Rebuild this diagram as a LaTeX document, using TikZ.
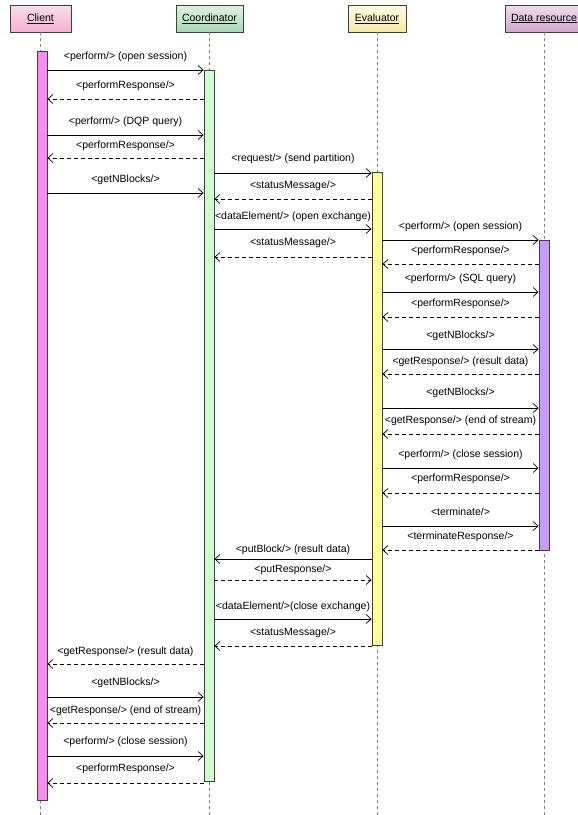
\documentclass[tikz,border=0pt]{standalone}
\usepackage{fontspec}
\setmainfont{Liberation Sans}
\usepackage{tikz}
\usetikzlibrary{calc,arrows.meta}
\definecolor{sq-line}{HTML}{404040}
\definecolor{sq-life}{HTML}{808080}
\definecolor{sq-client-top}{HTML}{FBDCEA}
\definecolor{sq-client-bot}{HTML}{F2B2D2}
\definecolor{sq-coord-top}{HTML}{DDF2E1}
\definecolor{sq-coord-bot}{HTML}{A8D8B4}
\definecolor{sq-eval-top}{HTML}{FFFCE4}
\definecolor{sq-eval-bot}{HTML}{F4E9A6}
\definecolor{sq-data-top}{HTML}{F0DCEE}
\definecolor{sq-data-bot}{HTML}{D2A6CE}
\definecolor{sq-client-bar}{HTML}{F98CF2}
\definecolor{sq-coord-bar}{HTML}{CCFFCC}
\definecolor{sq-eval-bar}{HTML}{FFFF99}
\definecolor{sq-data-bar}{HTML}{C899FF}
\tikzset{
  every node/.style={font=\fontsize{10.5}{12}\selectfont},
  header/.style={draw=sq-line, line width=0.8pt, minimum height=27pt, inner sep=0pt},
  lifeline/.style={draw=sq-life, line width=0.6pt, dash pattern=on 3pt off 3pt},
  actbar/.style={draw=sq-line, line width=0.8pt, minimum width=10pt, inner sep=0pt},
  callmsg/.style={draw=black, line width=0.7pt, -{Straight Barb[length=5pt,width=9pt]}},
  replymsg/.style={callmsg, dash pattern=on 4pt off 3pt},
  msglbl/.style={inner sep=0pt, text=black}
}

\begin{document}
\begin{tikzpicture}[x=1pt, y=-1pt]
    \useasboundingbox (0,0) rectangle (578,815);
    \node[header, minimum width=61pt, top color=sq-client-top, bottom color=sq-client-bot] (client) at (40.5,18.5) {\underline{Client}};
    \node[header, minimum width=67pt, top color=sq-coord-top, bottom color=sq-coord-bot] (coord) at (209.5,18.5) {\underline{Coordinator}};
    \node[header, minimum width=58pt, top color=sq-eval-top, bottom color=sq-eval-bot] (eval) at (377,18.5) {\underline{Evaluator}};
    \node[header, minimum width=78pt, top color=sq-data-top, bottom color=sq-data-bot] (data) at (544,18.5) {\underline{Data resource}};
    \foreach \p in {client,coord,eval,data}
        \draw[lifeline] (\p.south) -- (\p |- 0,815);
    \node[actbar, fill=sq-client-bar, minimum height=749pt] (clbar) at (42,425.5) {};
    \node[actbar, fill=sq-coord-bar, minimum height=711pt] (cobar) at (209,425.5) {};
    \node[actbar, fill=sq-eval-bar, minimum height=473pt] (evbar) at (377,408.5) {};
    \node[actbar, fill=sq-data-bar, minimum height=310pt] (drbar) at (544,395) {};
    \foreach \y/\ly/\src/\dst/\kind/\txt in {
        70/57/clbar.east/cobar.west/callmsg/{<perform/> (open session)},
        99/86/cobar.west/clbar.east/replymsg/{<performResponse/>},
        135/122/clbar.east/cobar.west/callmsg/{<perform/> (DQP query)},
        158/146/cobar.west/clbar.east/replymsg/{<performResponse/>},
        173/159/cobar.east/evbar.west/callmsg/{<request/> (send partition)},
        193/180/clbar.east/cobar.west/callmsg/{<getNBlocks/>},
        199/186/evbar.west/cobar.east/replymsg/{<statusMessage/>},
        229/217/cobar.east/evbar.west/callmsg/{<dataElement/> (open exchange)},
        240/227/evbar.east/drbar.west/callmsg/{<perform/> (open session)},
        257/243/evbar.west/cobar.east/replymsg/{<statusMessage/>},
        264/251/drbar.west/evbar.east/replymsg/{<performResponse/>},
        292/279/evbar.east/drbar.west/callmsg/{<perform/> (SQL query)},
        317/304/drbar.west/evbar.east/replymsg/{<performResponse/>},
        349/336/evbar.east/drbar.west/callmsg/{<getNBlocks/>},
        374/362/drbar.west/evbar.east/replymsg/{<getResponse/> (result data)},
        408/393/evbar.east/drbar.west/callmsg/{<getNBlocks/>},
        434/421/drbar.west/evbar.east/replymsg/{<getResponse/> (end of stream)},
        468/455/evbar.east/drbar.west/callmsg/{<perform/> (close session)},
        493/479/drbar.west/evbar.east/replymsg/{<performResponse/>},
        526/512/evbar.east/drbar.west/callmsg/{<terminate/>},
        550/537/drbar.west/evbar.east/replymsg/{<terminateResponse/>},
        559/550/evbar.west/cobar.east/callmsg/{<putBlock/> (result data)},
        580/570/cobar.east/evbar.west/replymsg/{<putResponse/>},
        619/607/cobar.east/evbar.west/callmsg/{<dataElement/>(close exchange)},
        646/633/evbar.west/cobar.east/replymsg/{<statusMessage/>},
        664/652/cobar.west/clbar.east/replymsg/{<getResponse/> (result data)},
        697/683/clbar.east/cobar.west/callmsg/{<getNBlocks/>},
        723/711/cobar.west/clbar.east/replymsg/{<getResponse/> (end of stream)},
        756/742/clbar.east/cobar.west/callmsg/{<perform/> (close session)},
        783/769/cobar.west/clbar.east/replymsg/{<performResponse/>}}
        \draw[\kind] (\src |- 0,\y) -- (\dst |- 0,\y)
            node[msglbl, midway, yshift={(\y-\ly)*1pt}] {\txt};
\end{tikzpicture}
\end{document}
